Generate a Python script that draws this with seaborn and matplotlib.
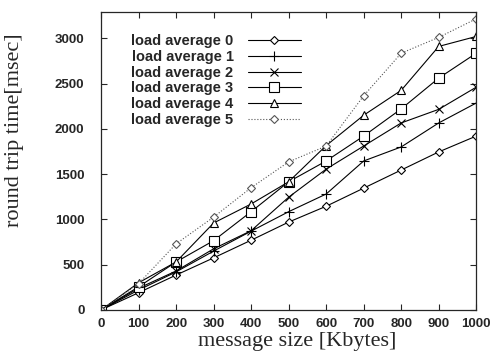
import numpy as np
import pandas as pd
import matplotlib
matplotlib.use('Agg')
import matplotlib.pyplot as plt
import seaborn as sns

sizes = [0, 100, 200, 300, 400, 500, 600, 700, 800, 900, 1000]

load0 = [0, 190, 385, 575, 770, 970, 1145, 1345, 1545, 1745, 1920]
load1 = [0, 220, 420, 650, 870, 1085, 1280, 1645, 1800, 2065, 2285]
load2 = [0, 240, 430, 675, 875, 1245, 1555, 1810, 2065, 2215, 2460]
load3 = [0, 255, 530, 765, 1085, 1415, 1645, 1920, 2220, 2560, 2835]
load4 = [0, 300, 530, 960, 1170, 1415, 1815, 2150, 2425, 2910, 3020]
load5 = [0, 290, 730, 1025, 1350, 1635, 1810, 2365, 2835, 3010, 3215]

labels = ['load average 0', 'load average 1', 'load average 2',
          'load average 3', 'load average 4', 'load average 5']
series = [load0, load1, load2, load3, load4, load5]

rows = []
for lab, vals in zip(labels, series):
    for s, v in zip(sizes, vals):
        rows.append({'size': s, 'time': v, 'load': lab})
df = pd.DataFrame(rows)

sns.set_style('ticks')
plt.rcParams['font.family'] = ['Liberation Sans', 'DejaVu Sans']

fig = plt.figure(figsize=(4.93, 3.53), dpi=100)
ax = fig.add_axes([0.205, 0.122, 0.761, 0.844])

styles = {
    'load average 0': dict(marker='D', ms=4.5, ls='-', color='black', mfc='white'),
    'load average 1': dict(marker='+', ms=7, ls='-', color='black'),
    'load average 2': dict(marker='x', ms=6, ls='-', color='black'),
    'load average 3': dict(marker='s', ms=7, ls='-', color='black', mfc='white'),
    'load average 4': dict(marker='^', ms=6, ls='-', color='black', mfc='white'),
    'load average 5': dict(marker='D', ms=4.5, ls=':', color='#555555', mfc='white'),
}

for lab in labels:
    st = styles[lab]
    sns.lineplot(data=df[df['load'] == lab], x='size', y='time', ax=ax,
                 label=lab, color=st['color'], linestyle=st['ls'],
                 marker=st['marker'], markersize=st['ms'],
                 markerfacecolor=st.get('mfc', 'none'),
                 markeredgecolor=st['color'], markeredgewidth=0.8,
                 linewidth=0.8)

ax.set_xlim(0, 1000)
ax.set_ylim(0, 3290)
ax.set_xticks(sizes)
ax.set_yticks([0, 500, 1000, 1500, 2000, 2500, 3000])
ax.tick_params(direction='in', top=True, right=True, length=4, width=0.8,
               labelsize=9.5)
ax.tick_params(axis='y', pad=12)
ax.tick_params(axis='x', pad=6)
for t in ax.get_xticklabels() + ax.get_yticklabels():
    t.set_fontweight('bold')
for sp in ax.spines.values():
    sp.set_linewidth(0.9)

ax.set_xlabel('message size [Kbytes]', family=['Liberation Serif', 'DejaVu Serif'],
              fontsize=16)
ax.set_ylabel('round trip time[msec]', family=['Liberation Serif', 'DejaVu Serif'],
              fontsize=16)
ax.xaxis.set_label_coords(0.523, -0.074)
ax.yaxis.set_label_coords(-0.205, 0.604)

leg = ax.legend(loc='upper left', bbox_to_anchor=(0.065, 0.945), frameon=False,
                markerfirst=False, handlelength=3.6, labelspacing=0.12,
                handletextpad=1.0, borderaxespad=0,
                prop={'size': 10.5, 'weight': 'bold'})

fig.savefig('out.png', dpi=100)
